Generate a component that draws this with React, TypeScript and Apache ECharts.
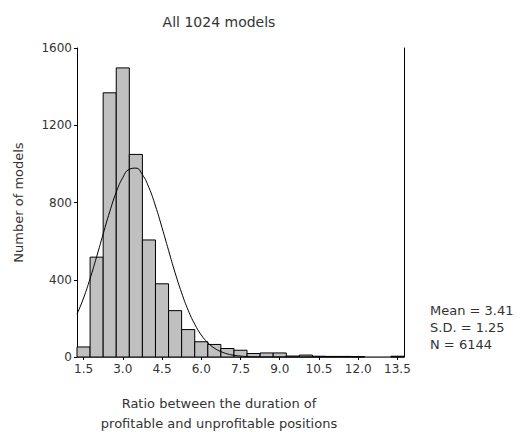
import React, { useEffect, useRef } from "react";
import * as echarts from "echarts";

const binCenters = [1.5, 2.0, 2.5, 3.0, 3.5, 4.0, 4.5, 5.0, 5.5, 6.0, 6.5, 7.0, 7.5, 8.0, 8.5, 9.0, 9.5, 10.0, 10.5, 11.0, 11.5, 12.0, 12.5, 13.0, 13.5];
const counts = [52, 517, 1368, 1497, 1049, 606, 379, 240, 142, 79, 65, 44, 35, 18, 21, 21, 5, 10, 4, 3, 3, 2, 0, 0, 4];
const binWidth = 0.5;

const curveX = [1.25, 1.5, 1.75, 2.0, 2.25, 2.5, 2.75, 3.0, 3.25, 3.5, 3.75, 4.0, 4.25, 4.5, 4.75, 5.0, 5.25, 5.5, 5.75, 6.0, 6.25, 6.5, 6.75, 7.0, 7.25, 7.5, 7.75, 8.0, 8.5, 13.75];
const curveY = [222, 305, 406, 519, 637, 752, 853, 929, 972, 978, 944, 877, 782, 670, 552, 436, 332, 242, 170, 114, 74, 46, 28, 16, 9, 5, 2, 1, 0, 0];

const xTickValues = [1.5, 3.0, 4.5, 6.0, 7.5, 9.0, 10.5, 12.0, 13.5];
const yMin = 0;
const yMax = 1600;
const yStep = 400;
const xMin = 1.25;
const xMax = 13.75;

const titleText = "All 1024 models";
const xNameLines = ["Ratio between the duration of", "profitable and unprofitable positions"];
const yName = "Number of models";
const statLines = ["Mean = 3.41", "S.D. = 1.25", "N = 6144"];

export default function App() {
  const ref = useRef<HTMLDivElement>(null);
  useEffect(() => {
    document.body.style.margin = "0";
    const chart = echarts.init(ref.current!, null, { renderer: "svg" });
    const font = "DejaVu Sans";
    const textColor = "#333";
    chart.setOption({
      animation: false,
      backgroundColor: "#fff",
      textStyle: { fontFamily: font },
      grid: { left: 77, right: 116, top: 48, bottom: 75 },
      xAxis: [
        {
          type: "value",
          min: xMin,
          max: xMax,
          axisLine: { show: true, lineStyle: { color: "#000", width: 1 } },
          axisTick: { show: true, customValues: xTickValues, length: 3, lineStyle: { color: "#000" } },
          axisLabel: {
            customValues: xTickValues,
            formatter: (v: number) => v.toFixed(1),
            fontSize: 12,
            color: textColor,
            margin: 6,
            fontFamily: font,
          },
          splitLine: { show: false },
        },
        {
          type: "value",
          position: "top",
          min: xMin,
          max: xMax,
          axisLine: { show: true, lineStyle: { color: "#777", width: 1 } },
          axisTick: { show: false },
          axisLabel: { show: false },
          splitLine: { show: false },
        },
      ],
      yAxis: [
        {
          type: "value",
          min: yMin,
          max: yMax,
          interval: yStep,
          name: yName,
          nameLocation: "middle",
          nameGap: 52,
          nameTextStyle: { fontSize: 13, color: textColor, fontFamily: font },
          axisLine: { show: true, lineStyle: { color: "#000", width: 1 } },
          axisTick: { show: true, length: 3, lineStyle: { color: "#000" } },
          axisLabel: {
            fontSize: 12,
            color: textColor,
            margin: 5,
            fontFamily: font,
            formatter: (v: number) => String(v),
          },
          splitLine: { show: false },
        },
        {
          type: "value",
          position: "right",
          min: yMin,
          max: yMax,
          interval: yStep,
          axisLine: { show: true, lineStyle: { color: "#000", width: 1 } },
          axisTick: { show: false },
          axisLabel: { show: false },
          splitLine: { show: false },
        },
      ],
      series: [
        {
          type: "custom",
          xAxisIndex: 0,
          yAxisIndex: 0,
          data: binCenters.map((c, i) => [c, counts[i]]),
          encode: { x: 0, y: 1 },
          z: 2,
          renderItem: (params: any, api: any) => {
            const c = api.value(0);
            const v = api.value(1);
            if (!v) return null;
            const p0 = api.coord([c - binWidth / 2, v]);
            const p1 = api.coord([c + binWidth / 2, 0]);
            return {
              type: "rect",
              shape: { x: p0[0], y: p0[1], width: p1[0] - p0[0], height: p1[1] - p0[1] },
              style: { fill: "#c0c0c0", stroke: "#000", lineWidth: 1 },
            };
          },
        },
        {
          type: "line",
          xAxisIndex: 0,
          yAxisIndex: 0,
          data: curveX.map((x, i) => [x, curveY[i]]),
          smooth: 0.5,
          showSymbol: false,
          symbol: "none",
          z: 5,
          lineStyle: { color: "#000", width: 1 },
        },
      ],
      graphic: [
        {
          type: "text",
          x: 219,
          y: 22,
          style: { text: titleText, font: `14px ${font}`, fill: textColor, align: "center", verticalAlign: "middle" },
        },
        ...xNameLines.map((t, i) => ({
          type: "text",
          x: 219,
          y: 403 + i * 20,
          style: { text: t, font: `13px ${font}`, fill: textColor, align: "center", verticalAlign: "middle" },
        })),
        ...statLines.map((t, i) => ({
          type: "text",
          x: 430,
          y: 310 + i * 17,
          style: { text: t, font: `13px ${font}`, fill: textColor, align: "left", verticalAlign: "middle" },
        })),
      ],
    });
    return () => chart.dispose();
  }, []);
  return <div ref={ref} style={{ width: 520, height: 432 }} />;
}
